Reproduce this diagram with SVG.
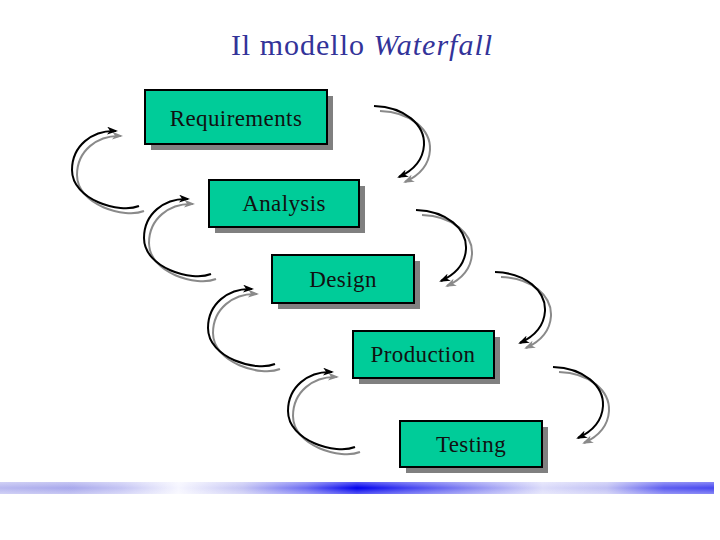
<svg xmlns="http://www.w3.org/2000/svg" width="720" height="540" viewBox="0 0 720 540">
<defs>
<style>
.box{fill:#00CC99;stroke:#000;stroke-width:2}
.shadow{fill:#808080}
.lbl{font-family:"Liberation Serif","Times New Roman",serif;font-size:23px;letter-spacing:0.4px;fill:#111;text-anchor:middle}
.title{font-family:"Liberation Serif","Times New Roman",serif;font-size:30px;letter-spacing:1px;fill:#333399;text-anchor:middle}
.blk{fill:none;stroke:#000;stroke-width:2;marker-end:url(#hb)}
.gry{fill:none;stroke:#8a8a8a;stroke-width:2;marker-end:url(#hg)}
</style>
<marker id="hb" markerUnits="userSpaceOnUse" markerWidth="12" markerHeight="8" refX="9" refY="4" orient="auto">
<path d="M0,0 L11,4 L0,8 L3,4 z" fill="#000"/>
</marker>
<marker id="hg" markerUnits="userSpaceOnUse" markerWidth="12" markerHeight="8" refX="9" refY="4" orient="auto">
<path d="M0,0 L11,4 L0,8 L3,4 z" fill="#8a8a8a"/>
</marker>
<path id="la" d="M139,206 C120,214 72,200 72,170 C72,146 92,130 116,131"/>
<path id="ra" d="M374,106 C405,107 425,125 424,145 C423,161 412,171 399,177"/>
<linearGradient id="bar" x1="0" y1="0" x2="1" y2="0">
<stop offset="0" stop-color="#b8b8f0"/>
<stop offset="0.1" stop-color="#a8a8ec"/>
<stop offset="0.17" stop-color="#c4c4f4"/>
<stop offset="0.25" stop-color="#f6f6ff"/>
<stop offset="0.34" stop-color="#c4c4f4"/>
<stop offset="0.43" stop-color="#6a6af2"/>
<stop offset="0.5" stop-color="#0000ee"/>
<stop offset="0.57" stop-color="#4040f0"/>
<stop offset="0.66" stop-color="#8a8af2"/>
<stop offset="0.76" stop-color="#dcdcfa"/>
<stop offset="0.85" stop-color="#c0c0f4"/>
<stop offset="0.93" stop-color="#5c5cf0"/>
<stop offset="1" stop-color="#4848f0"/>
</linearGradient>
<linearGradient id="barv" x1="0" y1="0" x2="0" y2="1">
<stop offset="0" stop-color="#fff" stop-opacity="0.35"/>
<stop offset="0.5" stop-color="#fff" stop-opacity="0"/>
<stop offset="1" stop-color="#fff" stop-opacity="0.35"/>
</linearGradient>
</defs>
<rect width="720" height="540" fill="#fff"/>
<text class="title" x="362" y="55">Il modello <tspan font-style="italic">Waterfall</tspan></text>
<g id="connectors">
<g><use href="#la" class="gry" transform="translate(5,5)"/><use href="#la" class="blk"/></g>
<g transform="translate(72,68)"><use href="#la" class="gry" transform="translate(5,5)"/><use href="#la" class="blk"/></g>
<g transform="translate(136,158)"><use href="#la" class="gry" transform="translate(5,5)"/><use href="#la" class="blk"/></g>
<g transform="translate(216,241)"><use href="#la" class="gry" transform="translate(5,5)"/><use href="#la" class="blk"/></g>
<g><use href="#ra" class="gry" transform="translate(6,5)"/><use href="#ra" class="blk"/></g>
<g transform="translate(42,104)"><use href="#ra" class="gry" transform="translate(6,5)"/><use href="#ra" class="blk"/></g>
<g transform="translate(121,166)"><use href="#ra" class="gry" transform="translate(6,5)"/><use href="#ra" class="blk"/></g>
<g transform="translate(179,261)"><use href="#ra" class="gry" transform="translate(6,5)"/><use href="#ra" class="blk"/></g>
</g>
<g id="requirements">
<rect class="shadow" x="151" y="96" width="182" height="54"/>
<rect class="box" x="145" y="90" width="182" height="54"/>
<text class="lbl" x="236" y="126">Requirements</text>
</g>
<g id="analysis">
<rect class="shadow" x="215" y="186" width="150" height="47"/>
<rect class="box" x="209" y="180" width="150" height="47"/>
<text class="lbl" x="284" y="211">Analysis</text>
</g>
<g id="design">
<rect class="shadow" x="278" y="261" width="142" height="48"/>
<rect class="box" x="272" y="255" width="142" height="48"/>
<text class="lbl" x="343" y="287">Design</text>
</g>
<g id="production">
<rect class="shadow" x="359" y="337" width="141" height="47"/>
<rect class="box" x="353" y="331" width="141" height="47"/>
<text class="lbl" x="423" y="362">Production</text>
</g>
<g id="testing">
<rect class="shadow" x="406" y="427" width="142" height="46"/>
<rect class="box" x="400" y="421" width="142" height="46"/>
<text class="lbl" x="471" y="452">Testing</text>
</g>
<rect x="0" y="482" width="714" height="12" fill="url(#bar)"/>
<rect x="0" y="482" width="714" height="12" fill="url(#barv)"/>
</svg>
